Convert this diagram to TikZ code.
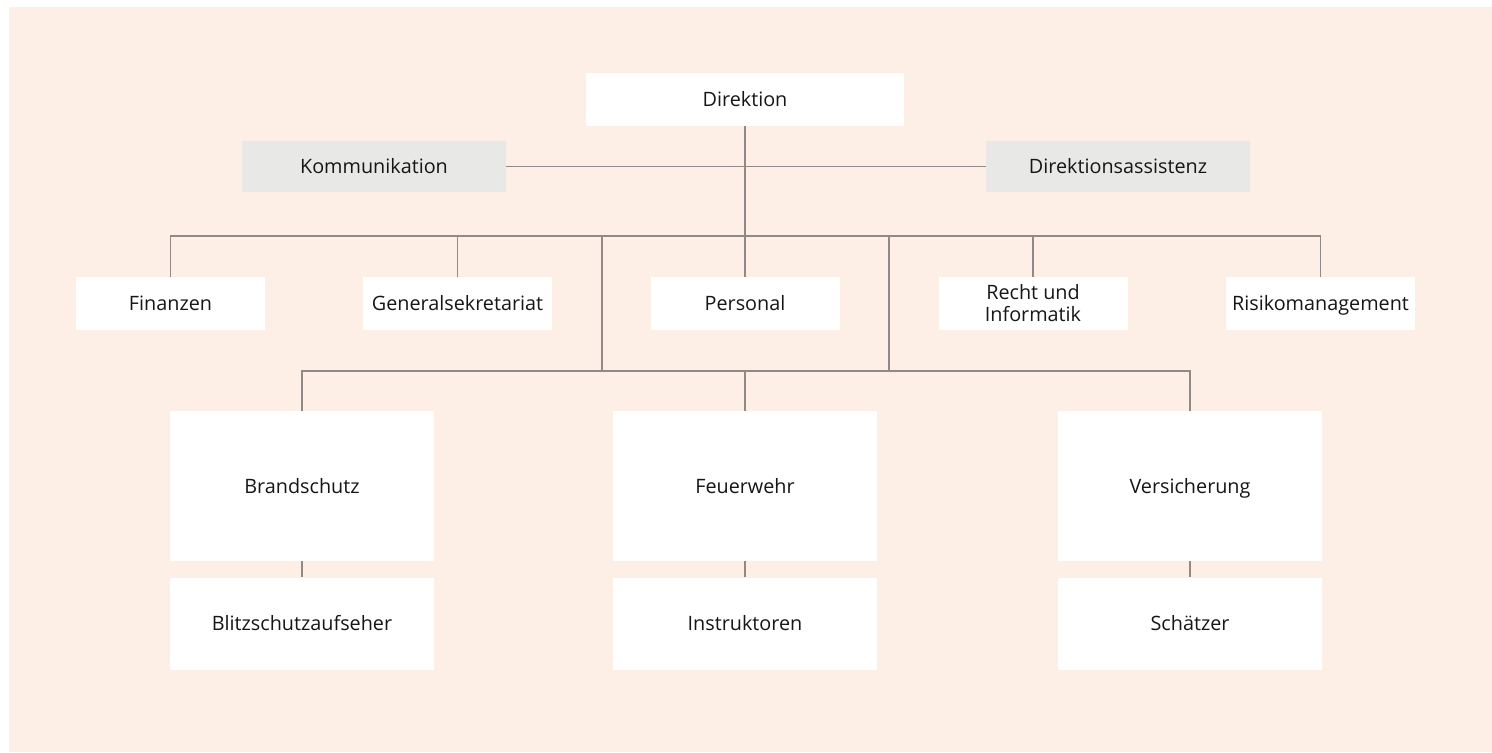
\documentclass[tikz,border=0pt]{standalone}
\usepackage{fontspec}
\setmainfont{Open Sans}
\usepackage{xcolor}
\usepackage{tikz}
\usetikzlibrary{positioning}

\definecolor{bgpeach}{RGB}{253,239,230}
\definecolor{boxgray}{RGB}{232,232,230}
\definecolor{linegray}{RGB}{145,137,133}
\definecolor{txtdark}{RGB}{22,22,22}

\begin{document}
\begin{tikzpicture}[x=0.5pt,y=-0.5pt,
  box/.style={rectangle,fill=white,inner sep=0pt,align=center,text=txtdark,font=\fontsize{9.9}{11}\selectfont,text height=7.1pt,text depth=0pt},
  top/.style={box,minimum width=159pt,minimum height=26.5pt},
  staff/.style={box,fill=boxgray,minimum width=132pt,minimum height=25.5pt},
  dept/.style={box,minimum width=94.5pt,minimum height=26.5pt},
  unit/.style={box,minimum width=132pt,minimum height=75pt},
  sub/.style={box,minimum width=132pt,minimum height=46pt},
  conn/.style={draw=linegray,line width=0.65pt}
]

% Background
\fill[white] (0,0) rectangle (1492,752);
\fill[bgpeach] (9,7) rectangle (1492,752);
\useasboundingbox (0,0) rectangle (1492,752);

% Direktion and staff units
\node[top] (direktion) at (745,99.5) {Direktion};
\node[staff] (kommunikation) at (374,166.5) {Kommunikation};
\node[staff] (assistenz) at (1118,166.5) {Direktionsassistenz};

% Departments
\node[dept] (finanzen) at (170.5,303.5) {Finanzen};
\node[dept] (gensek) at (457.5,303.5) {Generalsekretariat};
\node[dept] (personal) at (745,303.5) {Personal};
\node[dept,text height=18.1pt] (recht) at (1033,303.5) {Recht und\\Informatik};
\node[dept] (risiko) at (1320.5,303.5) {Risikomanagement};

% Operational units
\node[unit] (brandschutz) at (302,486) {Brandschutz};
\node[unit] (feuerwehr) at (745,486) {Feuerwehr};
\node[unit] (versicherung) at (1190,486) {Versicherung};

\node[sub,below=8pt of brandschutz] (blitz) {Blitzschutzaufseher};
\node[sub,below=8pt of feuerwehr] (instruktoren) {Instruktoren};
\node[sub,below=8pt of versicherung] (schaetzer) {Schätzer};

% Bus points
\coordinate (busa) at (745,236);
\coordinate (busb) at (745,371);
\coordinate (dropl) at (602,236);
\coordinate (dropr) at (889,236);

% Connectors
\draw[conn] (kommunikation) -- (assistenz);
\draw[conn] (direktion) -- (personal);
\draw[conn] (finanzen.north) -- (finanzen.north |- busa) -| (risiko.north);
\draw[conn] (gensek.north) -- (gensek.north |- busa);
\draw[conn] (recht.north) -- (recht.north |- busa);

\draw[conn] (dropl) -- (dropl |- busb);
\draw[conn] (dropr) -- (dropr |- busb);
\draw[conn] (brandschutz.north) -- (brandschutz.north |- busb) -| (versicherung.north);
\draw[conn] (feuerwehr.north) -- (feuerwehr.north |- busb);

\draw[conn] (brandschutz) -- (blitz);
\draw[conn] (feuerwehr) -- (instruktoren);
\draw[conn] (versicherung) -- (schaetzer);

\end{tikzpicture}
\end{document}
